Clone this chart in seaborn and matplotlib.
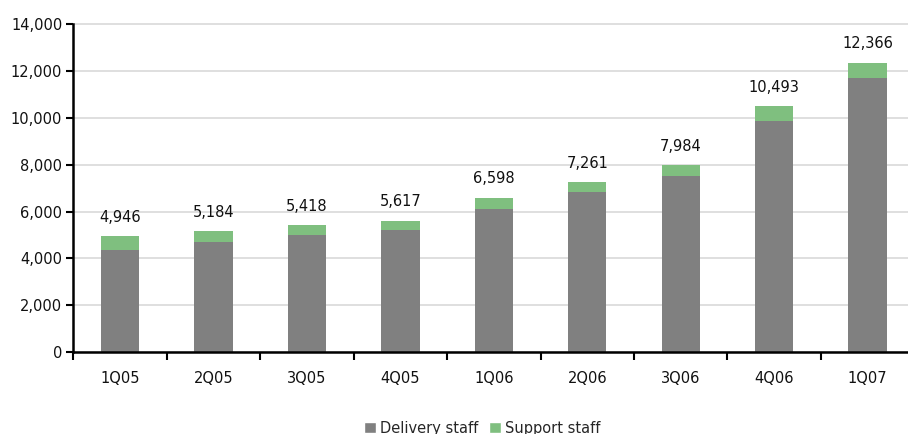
import matplotlib
matplotlib.use("Agg")
import matplotlib.pyplot as plt
import seaborn as sns
import pandas as pd
import numpy as np
from matplotlib.patches import Patch
from matplotlib.ticker import FuncFormatter, FixedLocator

quarters = ["1Q05", "2Q05", "3Q05", "4Q05", "1Q06", "2Q06", "3Q06", "4Q06", "1Q07"]
total_staff = [4946, 5184, 5418, 5617, 6598, 7261, 7984, 10493, 12366]
delivery_staff = [4360, 4700, 5000, 5210, 6110, 6835, 7520, 9870, 11705]
support_staff = [t - d for t, d in zip(total_staff, delivery_staff)]

GREY = "#808080"
GREEN = "#7fbf7f"

sns.set_theme(style="white")
plt.rcParams["font.family"] = ["DejaVu Sans"]
plt.rcParams["font.size"] = 10

df = pd.DataFrame({"quarter": quarters, "delivery": delivery_staff,
                   "support": support_staff, "total": total_staff})

fig = plt.figure(figsize=(9.08, 4.34), dpi=100)
W, H = 908, 434
left, right, bottom, top = 73.3, 914.3, 352, 24.3
ax = fig.add_axes([left / W, 1 - bottom / H, (right - left) / W, (bottom - top) / H])

ax.yaxis.grid(True, color="#d9d9d9", linewidth=1.2)
ax.set_axisbelow(True)

# support stacked on delivery: full-height green bar, grey delivery bar in front
sns.barplot(data=df, x="quarter", y="total", color=GREEN, width=0.41,
            saturation=1, linewidth=0, edgecolor="none", ax=ax, zorder=2)
sns.barplot(data=df, x="quarter", y="delivery", color=GREY, width=0.41,
            saturation=1, linewidth=0, edgecolor="none", ax=ax, zorder=3)

for i, t in enumerate(total_staff):
    ax.annotate(f"{t:,}", (i, t), xytext=(0, 8), textcoords="offset points",
                ha="center", va="bottom", fontsize=10.5, color="#111111")

ax.set_xlim(-0.5, len(quarters) - 0.5)
ax.set_ylim(0, 14000)
ax.set_yticks(np.arange(0, 14001, 2000))
ax.yaxis.set_major_formatter(FuncFormatter(lambda v, p: f"{int(v):,}"))
ax.set_xlabel("")
ax.set_ylabel("")
for gl in ax.get_ygridlines():
    gl.set_clip_on(False)

ax.xaxis.set_minor_locator(FixedLocator(np.arange(-0.5, len(quarters), 1.0)))
ax.tick_params(axis="x", which="major", length=0, pad=14, labelsize=10.5, colors="#111111")
ax.tick_params(axis="x", which="minor", length=6, width=1.5, color="black", direction="out")
ax.tick_params(axis="y", which="major", length=5, width=1.5, color="black",
               direction="out", labelsize=10.5, labelcolor="#111111", pad=3)
ax.tick_params(axis="x", bottom=True, which="both")
ax.tick_params(axis="y", left=True)

for s in ["top", "right"]:
    ax.spines[s].set_visible(False)
for s in ["left", "bottom"]:
    ax.spines[s].set_color("black")
    ax.spines[s].set_linewidth(1.8)
    ax.spines[s].set_zorder(5)

handles = [Patch(facecolor=GREY, label="Delivery staff"),
           Patch(facecolor=GREEN, label="Support staff")]
fig.legend(handles=handles, loc="center", bbox_to_anchor=(482 / W, 1 - 428 / H),
           ncol=2, frameon=False, fontsize=10.5, handlelength=0.85, handleheight=0.85,
           handletextpad=0.25, columnspacing=0.7, borderpad=0)

fig.savefig("out.png", dpi=100)
